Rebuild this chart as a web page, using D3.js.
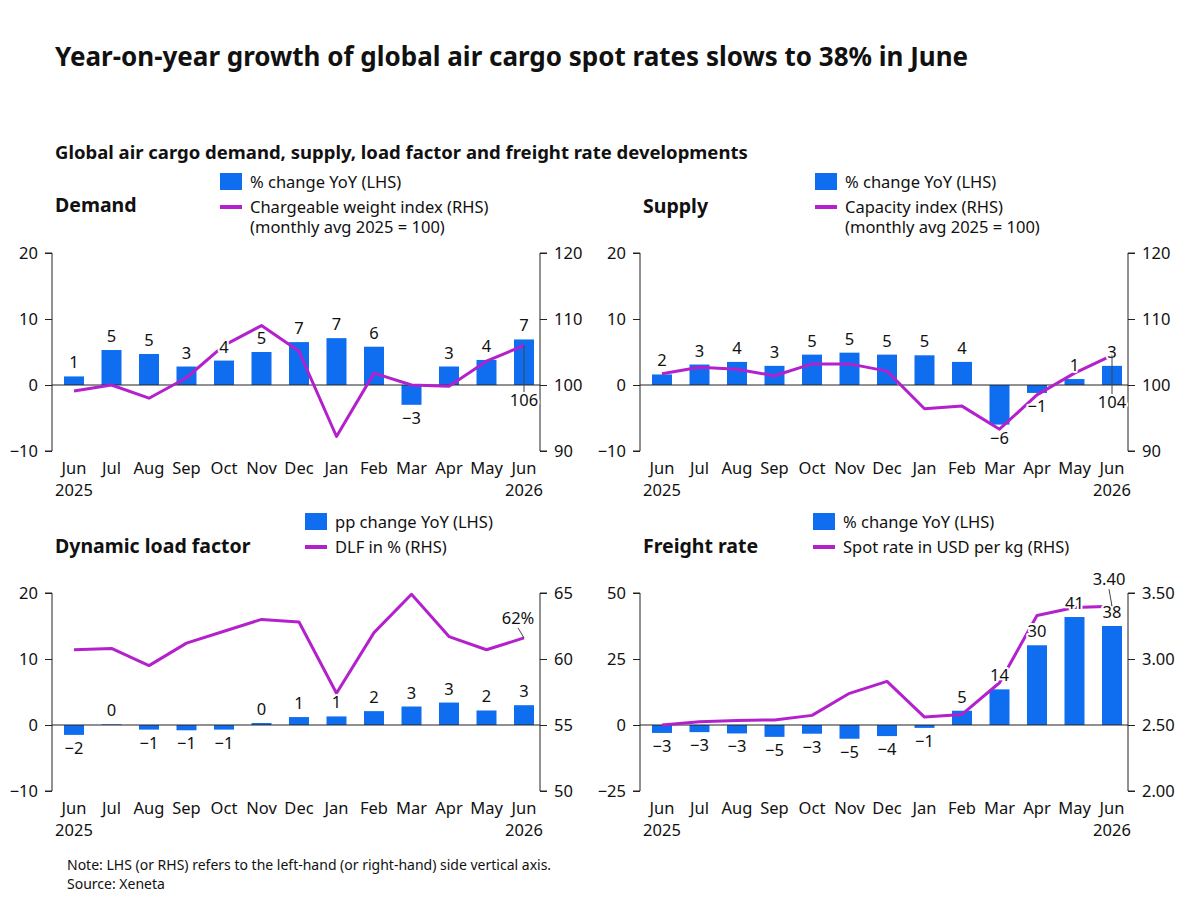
<!DOCTYPE html>
<html>
<head>
<meta charset="utf-8">
<script src="https://d3js.org/d3.v7.min.js"></script>
<style>
  body { margin: 0; background: #fff; font-family: 'Noto Sans', 'Open Sans', sans-serif; }
  text { fill: #111; }
  .halo { paint-order: stroke; stroke: #fff; stroke-width: 4px; stroke-linejoin: round; }
</style>
</head>
<body>
<svg width="1200" height="900"></svg>
<script>
const months = ["Jun", "Jul", "Aug", "Sep", "Oct", "Nov", "Dec", "Jan", "Feb", "Mar", "Apr", "May", "Jun"];

// Demand
const demandYoY = [1.3, 5.3, 4.7, 2.8, 3.7, 5.0, 6.5, 7.1, 5.8, -3.0, 2.8, 3.8, 6.9];
const demandYoYLabels = ["1", "5", "5", "3", "4", "5", "7", "7", "6", "-3", "3", "4", "7"];
const demandIndex = [99.1, 100.0, 98.0, 101.1, 106.0, 109.0, 105.1, 92.2, 101.8, 100.0, 99.8, 103.6, 106.0];

// Supply
const supplyYoY = [1.6, 3.1, 3.5, 2.9, 4.6, 4.9, 4.6, 4.5, 3.5, -6.0, -1.2, 0.9, 2.9];
const supplyYoYLabels = ["2", "3", "4", "3", "5", "5", "5", "5", "4", "-6", "-1", "1", "3"];
const supplyIndex = [101.7, 102.7, 102.4, 101.4, 103.2, 103.2, 102.1, 96.4, 96.8, 93.3, 98.5, 101.8, 104.5];

// Dynamic load factor
const dlfChange = [-1.5, 0.1, -0.7, -0.8, -0.7, 0.3, 1.2, 1.3, 2.1, 2.8, 3.4, 2.2, 3.0];
const dlfChangeLabels = ["-2", "0", "-1", "-1", "-1", "0", "1", "1", "2", "3", "3", "2", "3"];
const dlfPct = [60.7, 60.8, 59.5, 61.2, 62.1, 63.0, 62.8, 57.4, 62.0, 64.9, 61.7, 60.7, 61.6];

// Freight rate
const rateYoY = [-3.0, -2.7, -3.2, -4.5, -3.3, -5.2, -4.2, -1.1, 5.4, 13.5, 30.2, 40.9, 37.5];
const rateYoYLabels = ["-3", "-3", "-3", "-5", "-3", "-5", "-4", "-1", "5", "14", "30", "41", "38"];
const spotRate = [2.50, 2.525, 2.535, 2.538, 2.573, 2.74, 2.83, 2.56, 2.58, 2.82, 3.33, 3.39, 3.40];

const svg = d3.select("svg");
const BLUE = "#0f6ef0", PURPLE = "#b321cc";

svg.append("text").attr("x", 55).attr("y", 66).attr("font-size", 26).attr("font-weight", 700)
    .text("Year-on-year growth of global air cargo spot rates slows to 38% in June");
svg.append("text").attr("x", 55).attr("y", 159).attr("font-size", 18.5).attr("font-weight", 700)
    .text("Global air cargo demand, supply, load factor and freight rate developments");
svg.append("text").attr("x", 67).attr("y", 870).attr("font-size", 14)
    .text("Note: LHS (or RHS) refers to the left-hand (or right-hand) side vertical axis.");
svg.append("text").attr("x", 67).attr("y", 889).attr("font-size", 14).text("Source: Xeneta");

function panel(cfg) {
    const g = svg.append("g").attr("transform", `translate(${cfg.x},${cfg.y})`);
    const L = 0, R = 488, T = 0, B = 198;
    const x = d3.scalePoint().domain(d3.range(months.length)).range([22, 472]);
    const yL = d3.scaleLinear().domain(cfg.lDomain).range([B, T]);
    const yR = d3.scaleLinear().domain(cfg.rDomain).range([B, T]);

    // title + legend
    g.append("text").attr("x", 3).attr("y", cfg.titleY).attr("font-size", 19.5).attr("font-weight", 700).text(cfg.title);
    g.append("rect").attr("x", cfg.legX).attr("y", -80).attr("width", 22).attr("height", 17).attr("fill", BLUE);
    g.append("text").attr("x", cfg.legX + 30).attr("y", -65).attr("font-size", 16.5).text(cfg.barName);
    g.append("line").attr("x1", cfg.legX).attr("x2", cfg.legX + 22).attr("y1", -46).attr("y2", -46)
        .attr("stroke", PURPLE).attr("stroke-width", 4);
    cfg.lineName.forEach((s, i) => g.append("text").attr("x", cfg.legX + 30).attr("y", -40 + i * 20).attr("font-size", 16.5).text(s));

    // axes
    const axL = g.append("g").call(d3.axisLeft(yL).tickValues(cfg.lTicks).tickSize(7).tickFormat(d => String(d).replace("-", "\u2212")));
    const axR = g.append("g").attr("transform", `translate(${R},0)`)
        .call(d3.axisRight(yR).tickValues(cfg.rTicks).tickSize(7).tickFormat(cfg.rFormat));
    [axL, axR].forEach(a => {
        a.select(".domain").attr("d", a === axL ? `M-7,${T}H0V${B}H-7` : `M7,${T}H0V${B}H7`).attr("stroke", "#222");
        a.selectAll("line").attr("stroke", "#222");
        a.selectAll("text").attr("font-size", 16.5).attr("font-family", "'Noto Sans', sans-serif").attr("fill", "#111");
    });
    axL.selectAll("text").attr("x", -14);
    axR.selectAll("text").attr("x", 14);

    // bars
    const bw = 20;
    g.selectAll(".bar").data(cfg.bars).join("rect")
        .attr("x", (d, i) => x(i) - bw / 2).attr("width", bw)
        .attr("y", d => yL(Math.max(0, d))).attr("height", d => Math.abs(yL(d) - yL(0)))
        .attr("fill", BLUE);
    g.append("line").attr("x1", L).attr("x2", R).attr("y1", yL(0)).attr("y2", yL(0)).attr("stroke", "#222");

    // line
    g.append("path").datum(cfg.line).attr("fill", "none").attr("stroke", PURPLE).attr("stroke-width", 3)
        .attr("stroke-linejoin", "round")
        .attr("d", d3.line().x((d, i) => x(i)).y(d => yR(d)));

    // bar labels
    g.selectAll(".lab").data(cfg.bars).join("text").attr("class", "halo")
        .attr("x", (d, i) => x(i)).attr("text-anchor", "middle").attr("font-size", 16.5)
        .attr("y", d => d >= 0 ? yL(d) - 8 : yL(d) + 19)
        .text((d, i) => cfg.barLabels[i].replace("-", "\u2212"));

    // end annotation
    const n = months.length - 1;
    const ex = x(n), ey = yR(cfg.line[n]);
    if (cfg.endDy) {
        g.append("line").attr("x1", ex).attr("x2", ex + (cfg.endDx || 0)).attr("y1", ey).attr("y2", ey + cfg.endDy + (cfg.endDy > 0 ? -14 : 4))
            .attr("stroke", "#444").attr("stroke-width", 1);
    }
    g.append("text").attr("class", "halo").attr("x", ex + (cfg.endDx || 0)).attr("y", ey + (cfg.endDy || 0))
        .attr("text-anchor", "middle").attr("font-size", 16.5).text(cfg.endLabel);

    // x labels
    months.forEach((m, i) => g.append("text").attr("x", x(i)).attr("y", B + 23).attr("text-anchor", "middle").attr("font-size", 16.5).text(m));
    g.append("text").attr("x", x(0)).attr("y", B + 45).attr("text-anchor", "middle").attr("font-size", 16.5).text("2025");
    g.append("text").attr("x", x(n)).attr("y", B + 45).attr("text-anchor", "middle").attr("font-size", 16.5).text("2026");
}

panel({ x: 52, y: 253, title: "Demand", titleY: -41, legX: 168,
    barName: "% change YoY (LHS)", lineName: ["Chargeable weight index (RHS)", "(monthly avg 2025 = 100)"],
    lDomain: [-10, 20], lTicks: [-10, 0, 10, 20], rDomain: [90, 120], rTicks: [90, 100, 110, 120], rFormat: d => d,
    bars: demandYoY, barLabels: demandYoYLabels, line: demandIndex, endLabel: "106", endDy: 61 });

panel({ x: 640, y: 253, title: "Supply", titleY: -40, legX: 175,
    barName: "% change YoY (LHS)", lineName: ["Capacity index (RHS)", "(monthly avg 2025 = 100)"],
    lDomain: [-10, 20], lTicks: [-10, 0, 10, 20], rDomain: [90, 120], rTicks: [90, 100, 110, 120], rFormat: d => d,
    bars: supplyYoY, barLabels: supplyYoYLabels, line: supplyIndex, endLabel: "104", endDy: 53 });

panel({ x: 52, y: 593, title: "Dynamic load factor", titleY: -40, legX: 253,
    barName: "pp change YoY (LHS)", lineName: ["DLF in % (RHS)"],
    lDomain: [-10, 20], lTicks: [-10, 0, 10, 20], rDomain: [50, 65], rTicks: [50, 55, 60, 65], rFormat: d => d,
    bars: dlfChange, barLabels: dlfChangeLabels, line: dlfPct, endLabel: "62%", endDy: -14, endDx: -6 });

panel({ x: 640, y: 593, title: "Freight rate", titleY: -40, legX: 173,
    barName: "% change YoY (LHS)", lineName: ["Spot rate in USD per kg (RHS)"],
    lDomain: [-25, 50], lTicks: [-25, 0, 25, 50], rDomain: [2.0, 3.5], rTicks: [2.0, 2.5, 3.0, 3.5], rFormat: d3.format(".2f"),
    bars: rateYoY, barLabels: rateYoYLabels, line: spotRate, endLabel: "3.40", endDy: -21, endDx: -3 });
</script>
</body>
</html>
